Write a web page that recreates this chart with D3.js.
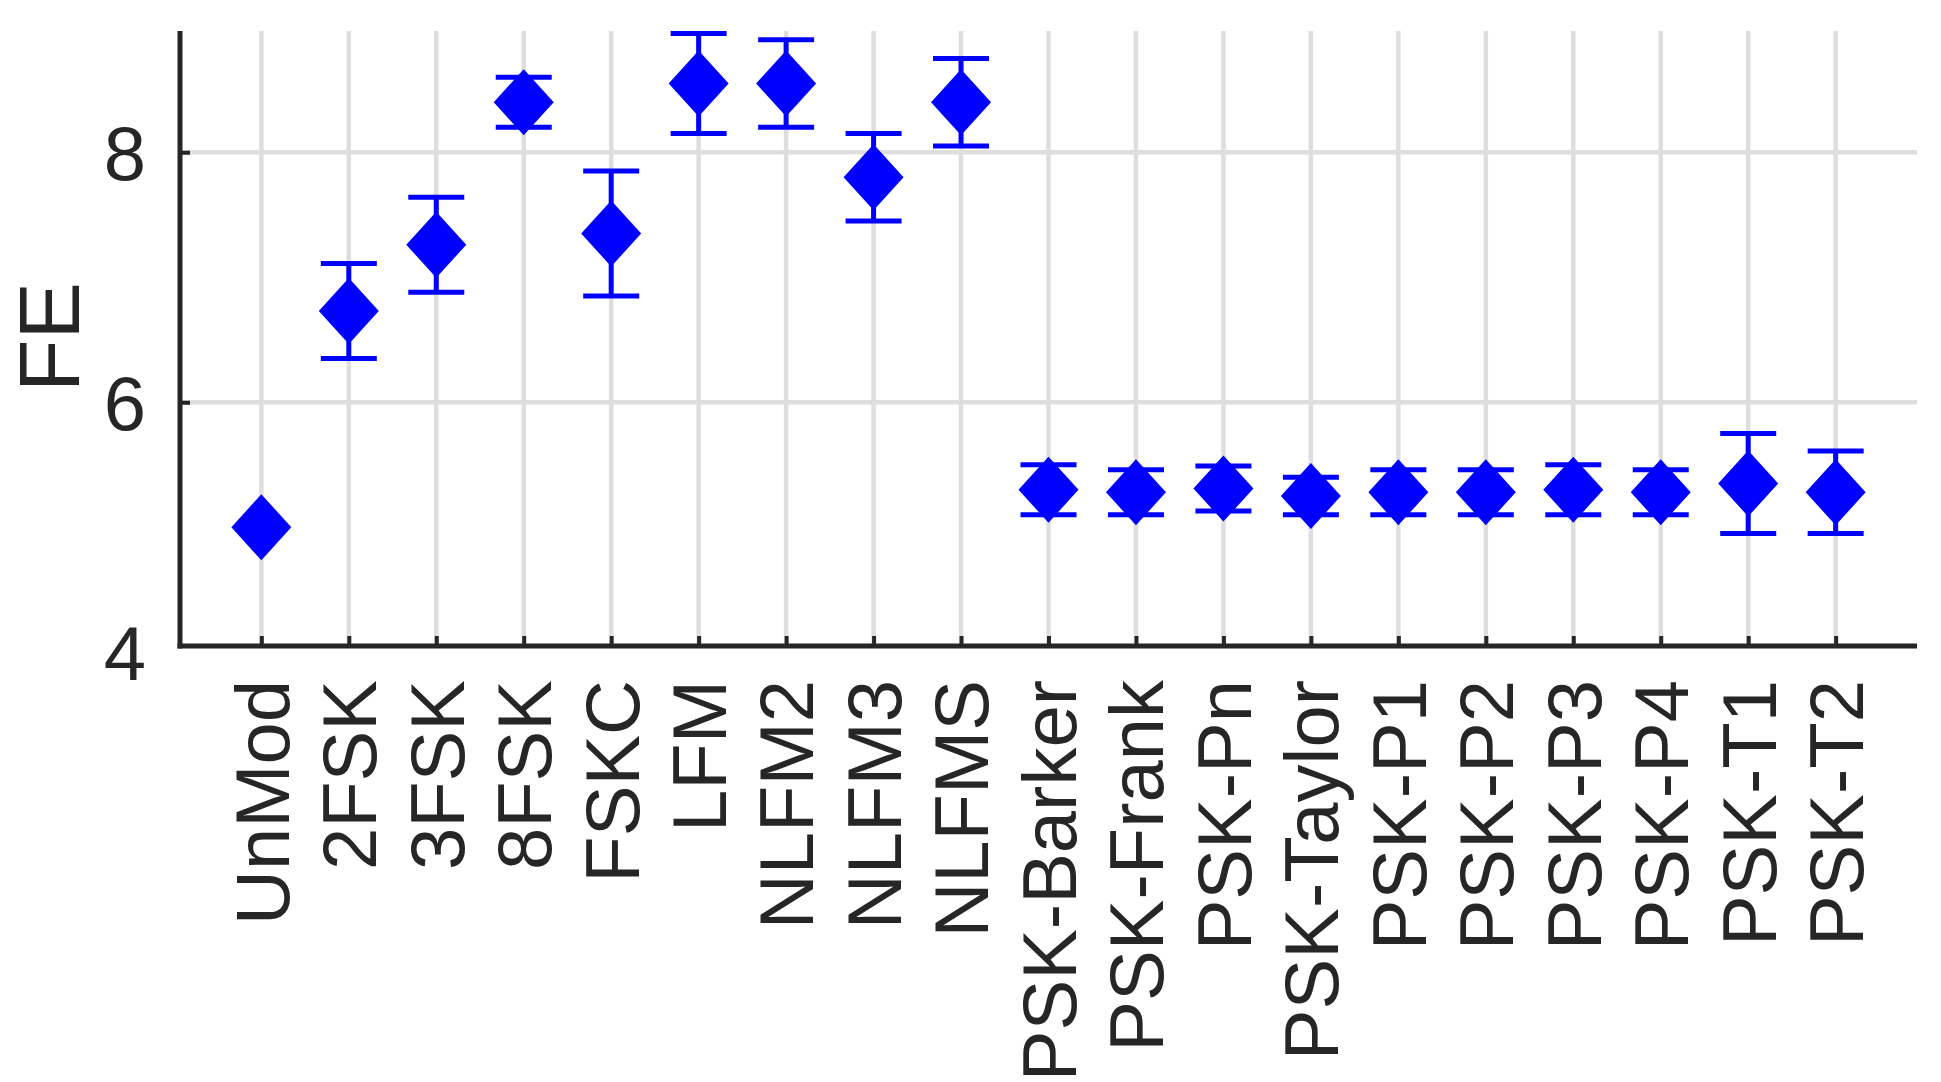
<!DOCTYPE html>
<html>
<head>
<meta charset="utf-8">
<script src="https://cdn.jsdelivr.net/npm/d3@7"></script>
<style>
  body { margin: 0; background: #fff; }
  text { font-family: "Liberation Sans", Arial, sans-serif; fill: #262626; }
</style>
</head>
<body>
<div id="chart"></div>
<script>
let svgWidth = 1941;
let svgHeight = 1082;

// Data =========================
let categories = ["UnMod", "2FSK", "3FSK", "8FSK", "FSKC", "LFM", "NLFM2", "NLFM3", "NLFMS",
  "PSK-Barker", "PSK-Frank", "PSK-Pn", "PSK-Taylor", "PSK-P1", "PSK-P2", "PSK-P3", "PSK-P4",
  "PSK-T1", "PSK-T2"];
let meanFE = [5.00, 6.73, 7.26, 8.40, 7.35, 8.55, 8.55, 7.80, 8.40,
  5.30, 5.28, 5.31, 5.25, 5.28, 5.28, 5.30, 5.28, 5.35, 5.28];
let errFE = [0, 0.38, 0.38, 0.20, 0.50, 0.40, 0.35, 0.35, 0.35,
  0.20, 0.18, 0.18, 0.15, 0.18, 0.18, 0.20, 0.18, 0.40, 0.33];
let yTicks = [4, 6, 8];
let yLimits = [4.05, 8.97];

let data = categories.map((c, i) => ({ name: c, mean: meanFE[i], err: errFE[i] }));

// Layout =======================
let plotLeft = 180, plotRight = 1917, plotTop = 31, plotBottom = 646;
let tickFont = 76;
let labelFont = 86;
let blue = "#0000ff";
let gridColor = "#dedede";
let axisColor = "#262626";

let svg = d3.select("#chart").append("svg")
  .attr("width", svgWidth)
  .attr("height", svgHeight);

svg.append("rect").attr("width", svgWidth).attr("height", svgHeight).attr("fill", "#fff");

let x = d3.scalePoint().domain(categories).range([plotLeft, plotRight]).padding(0.93);
let y = d3.scaleLinear().domain(yLimits).range([plotBottom, plotTop]);

// Grid =========================
let grid = svg.append("g");
grid.selectAll("line.vgrid")
  .data(categories)
  .enter()
  .append("line")
  .attr("x1", d => x(d)).attr("x2", d => x(d))
  .attr("y1", plotTop).attr("y2", plotBottom)
  .attr("stroke", gridColor)
  .attr("stroke-width", 4.5);

grid.selectAll("line.hgrid")
  .data(yTicks.filter(t => t > yLimits[0]))
  .enter()
  .append("line")
  .attr("x1", plotLeft).attr("x2", plotRight)
  .attr("y1", d => y(d)).attr("y2", d => y(d))
  .attr("stroke", gridColor)
  .attr("stroke-width", 4.5);

// Axes =========================
let yAxis = svg.append("g")
  .attr("transform", `translate(${plotLeft}, 0)`)
  .call(d3.axisLeft(y).tickValues(yTicks).tickSize(-10).tickPadding(34).tickFormat(d3.format("d")));

let xAxis = svg.append("g")
  .attr("transform", `translate(0, ${plotBottom})`)
  .call(d3.axisBottom(x).tickSize(-10).tickFormat(""));

[xAxis, yAxis].forEach(ax => {
  ax.select(".domain").remove();
  ax.selectAll(".tick line").attr("stroke", axisColor).attr("stroke-width", 4);
});
yAxis.selectAll(".tick").filter(d => d < yLimits[0]).select("line").remove();
yAxis.selectAll(".tick text")
  .attr("font-size", tickFont)
  .attr("font-family", "Liberation Sans, Arial, sans-serif")
  .attr("fill", axisColor)
  .attr("dy", "0.36em");

svg.append("line")
  .attr("x1", plotLeft).attr("x2", plotLeft)
  .attr("y1", plotTop).attr("y2", plotBottom + 2.5)
  .attr("stroke", axisColor).attr("stroke-width", 5);
svg.append("line")
  .attr("x1", plotLeft - 2.5).attr("x2", plotRight)
  .attr("y1", plotBottom).attr("y2", plotBottom)
  .attr("stroke", axisColor).attr("stroke-width", 5);

// Rotated category labels
svg.append("g").selectAll("text")
  .data(categories)
  .enter()
  .append("text")
  .attr("transform", d => `translate(${x(d)}, 680) rotate(-90)`)
  .attr("text-anchor", "end")
  .attr("dy", "0.36em")
  .attr("font-size", tickFont)
  .text(d => d);

svg.append("text")
  .attr("transform", `translate(48, 337) rotate(-90)`)
  .attr("text-anchor", "middle")
  .attr("dy", "0.36em")
  .attr("font-size", labelFont)
  .text("FE");

// Error bars and markers ========
let capHalf = 28;
let bars = svg.append("g").selectAll("g")
  .data(data.filter(d => d.err > 0))
  .enter()
  .append("g")
  .attr("stroke", blue)
  .attr("stroke-width", 5);

bars.append("line")
  .attr("x1", d => x(d.name)).attr("x2", d => x(d.name))
  .attr("y1", d => y(d.mean - d.err)).attr("y2", d => y(d.mean + d.err));
bars.append("line")
  .attr("x1", d => x(d.name) - capHalf).attr("x2", d => x(d.name) + capHalf)
  .attr("y1", d => y(d.mean + d.err)).attr("y2", d => y(d.mean + d.err));
bars.append("line")
  .attr("x1", d => x(d.name) - capHalf).attr("x2", d => x(d.name) + capHalf)
  .attr("y1", d => y(d.mean - d.err)).attr("y2", d => y(d.mean - d.err));

let dw = 30, dh = 33;
svg.append("g").selectAll("path")
  .data(data)
  .enter()
  .append("path")
  .attr("transform", d => `translate(${x(d.name)}, ${y(d.mean)})`)
  .attr("d", `M0,${-dh}L${dw},0L0,${dh}L${-dw},0Z`)
  .attr("fill", blue);
</script>
</body>
</html>
